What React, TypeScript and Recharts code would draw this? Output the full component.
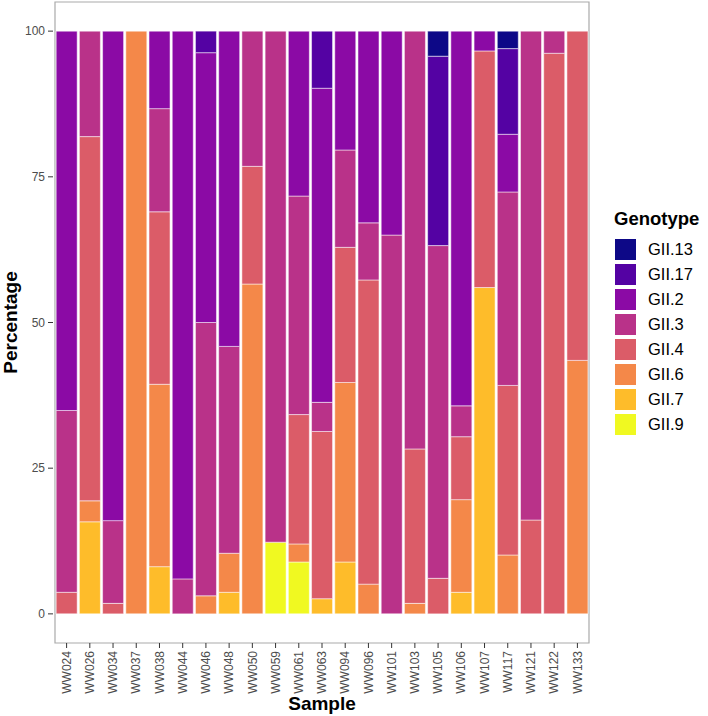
import { BarChart, Bar, XAxis, YAxis, ReferenceArea } from 'recharts'

const samples = [
  'WW024', 'WW026', 'WW034', 'WW037', 'WW038', 'WW044', 'WW046', 'WW048',
  'WW050', 'WW059', 'WW061', 'WW063', 'WW094', 'WW096', 'WW101', 'WW103',
  'WW105', 'WW106', 'WW107', 'WW117', 'WW121', 'WW122', 'WW133',
]

// percentages per genotype, one value per sample (same order as samples)
const gii13 = [0, 0, 0, 0, 0, 0, 0, 0, 0, 0, 0, 0, 0, 0, 0, 0, 4.3, 0, 0, 3.0, 0, 0, 0]
const gii17 = [0, 0, 0, 0, 0, 0, 3.7, 0, 0, 0, 0, 9.8, 0, 0, 0, 0, 32.5, 0, 0, 14.7, 0, 0, 0]
const gii2 = [65.1, 0, 84.0, 0, 13.3, 94.0, 46.3, 54.1, 0, 0, 28.3, 53.9, 20.4, 32.9, 35.0, 0, 0, 64.3, 3.4, 9.9, 0, 0, 0]
const gii3 = [31.2, 18.1, 14.2, 0, 17.7, 6.0, 46.9, 35.5, 23.2, 87.7, 37.5, 5.0, 16.7, 9.8, 65.0, 71.7, 57.1, 5.3, 0, 33.2, 83.9, 3.8, 0]
const gii4 = [3.7, 62.5, 1.8, 0, 29.6, 0, 0, 0, 20.2, 0, 22.2, 28.7, 23.2, 52.2, 0, 26.5, 6.1, 10.8, 40.6, 29.1, 16.1, 96.2, 56.5]
const gii6 = [0, 3.6, 0, 100, 31.3, 0, 3.1, 6.7, 56.6, 0, 3.1, 0, 30.8, 5.1, 0, 1.8, 0, 15.9, 0, 10.1, 0, 0, 43.5]
const gii7 = [0, 15.8, 0, 0, 8.1, 0, 0, 3.7, 0, 0, 0, 2.6, 8.9, 0, 0, 0, 0, 3.7, 56.0, 0, 0, 0, 0]
const gii9 = [0, 0, 0, 0, 0, 0, 0, 0, 0, 12.3, 8.9, 0, 0, 0, 0, 0, 0, 0, 0, 0, 0, 0, 0]

const yTicks = [0, 25, 50, 75, 100]

// legend order (top of stack first)
const genotypes = ['GII.13', 'GII.17', 'GII.2', 'GII.3', 'GII.4', 'GII.6', 'GII.7', 'GII.9']
const genotypeValues = [gii13, gii17, gii2, gii3, gii4, gii6, gii7, gii9]
const colors = ['#0D0887', '#5402A3', '#8B0AA5', '#B93289', '#DB5C68', '#F48849', '#FEBC2A', '#F0F921']

const data = samples.map((s, i) => {
  const row: Record<string, string | number> = { sample: s }
  genotypes.forEach((g, k) => {
    row[g] = genotypeValues[k][i]
  })
  return row
})

const font = '"Liberation Sans", Arial, Helvetica, sans-serif'

function SampleTick(props: any) {
  const { x, y, payload } = props
  return (
    <text
      x={x}
      y={y}
      transform={`rotate(-90, ${x}, ${y})`}
      textAnchor='end'
      dy='0.35em'
      fontSize={12}
      fill='#4D4D4D'
      fontFamily={font}
    >
      {payload.value}
    </text>
  )
}

function GenotypeLegend() {
  return (
    <div style={{ position: 'absolute', left: 614, top: 208, fontFamily: font }}>
      <div style={{ fontSize: 18.5, fontWeight: 'bold', color: '#000', marginBottom: 7 }}>Genotype</div>
      {genotypes.map((g, k) => (
        <div key={g} style={{ display: 'flex', alignItems: 'center', height: 25 }}>
          <div style={{ width: 23, height: 23, background: colors[k], boxSizing: 'border-box', border: '1px solid #fff' }} />
          <span style={{ fontSize: 16.5, marginLeft: 11, color: '#000' }}>{g}</span>
        </div>
      ))}
    </div>
  )
}

export default function App() {
  const stackOrder = [...genotypes].reverse()
  return (
    <div style={{ position: 'absolute', left: 0, top: 0, width: 708, height: 716, background: '#fff' }}>
      <BarChart
        width={708}
        height={716}
        data={data}
        margin={{ top: 2, right: 117, left: 0, bottom: 0 }}
        barCategoryGap='5%'
      >
        <XAxis
          dataKey='sample'
          height={73}
          axisLine={false}
          tickLine={{ stroke: '#333' }}
          tickSize={5}
          tickMargin={3}
          interval={0}
          padding={{ left: 2, right: 2 }}
          tick={<SampleTick />}
          label={{ value: 'Sample', position: 'insideBottom', offset: 6, fontSize: 19, fontWeight: 'bold', fill: '#000', fontFamily: font }}
        />
        <YAxis
          width={53}
          domain={[-5, 105]}
          ticks={yTicks}
          allowDataOverflow
          axisLine={false}
          tickLine={{ stroke: '#333' }}
          tickSize={5}
          tickMargin={3}
          tick={{ fontSize: 12, fill: '#4D4D4D', fontFamily: font }}
          label={{ value: 'Percentage', angle: -90, position: 'insideLeft', offset: 10, fontSize: 19, fontWeight: 'bold', fill: '#000', fontFamily: font, style: { textAnchor: 'middle' } }}
        />
        {stackOrder.map((g) => (
          <Bar
            key={g}
            dataKey={g}
            stackId='a'
            fill={colors[genotypes.indexOf(g)]}
            stroke='#fff'
            strokeWidth={0.5}
            isAnimationActive={false}
          />
        ))}
        <ReferenceArea y1={-5} y2={105} fill='none' stroke='#AAAAAA' strokeWidth={1.2} ifOverflow='visible' />
      </BarChart>
      <GenotypeLegend />
    </div>
  )
}
